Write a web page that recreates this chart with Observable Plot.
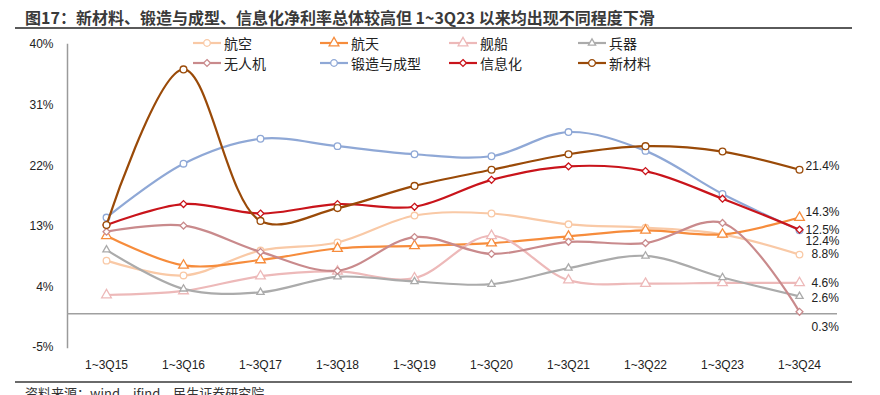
<!DOCTYPE html>
<html>
<head>
<meta charset="utf-8">
<script src="https://cdn.jsdelivr.net/npm/d3@7"></script>
<script src="https://cdn.jsdelivr.net/npm/@observablehq/plot@0.6"></script>
<style>
  html, body { margin: 0; padding: 0; background: #fff; }
  body { width: 880px; height: 395px; position: relative; overflow: hidden;
         font-family: "Liberation Sans", "Noto Sans CJK SC", sans-serif; }
  #title { position: absolute; left: 25px; top: 6px; font-size: 16px; font-weight: bold;
           color: #3a3a3a; font-family: "Noto Sans CJK SC", sans-serif; white-space: nowrap; line-height: 22px; }
  #topline { position: absolute; left: 15px; width: 837px; top: 27px; height: 2px; background: #5a5a5a; }
  #botline { position: absolute; left: 15px; width: 837px; top: 381px; height: 2px; background: #6a6a6a; }
  #source { position: absolute; left: 25px; top: 384px; font-size: 13px; color: #333;
            font-family: "Noto Sans CJK SC", sans-serif; white-space: nowrap; line-height: 18px; }
  #chart { position: absolute; left: 0; top: 35px; }
  .leg { position: absolute; display: flex; align-items: center; font-size: 14px; color: #222;
         font-family: "Noto Sans CJK SC", sans-serif; height: 16px; }
  .leg svg { margin-right: 3px; }
</style>
</head>
<body>
<div id="title">图17：新材料、锻造与成型、信息化净利率总体较高但 1~3Q23 以来均出现不同程度下滑</div>
<div id="topline"></div>
<div id="chart"></div>
<div id="legend"></div>
<div id="botline"></div>
<div id="source">资料来源：wind，ifind，民生证券研究院</div>
<script>
// ---- data ----
const categories = ["1~3Q15","1~3Q16","1~3Q17","1~3Q18","1~3Q19","1~3Q20","1~3Q21","1~3Q22","1~3Q23","1~3Q24"];
const seriesNames = ["航空","航天","舰船","兵器","无人机","锻造与成型","信息化","新材料"];
const hangkong   = [7.9, 5.7, 9.4, 10.6, 14.6, 14.9, 13.3, 12.8, 11.8, 8.8];
const hangtian   = [11.6, 7.2, 8.0, 9.7, 10.1, 10.5, 11.5, 12.4, 11.8, 14.3];
const jianchuan  = [2.8, 3.4, 5.6, 6.3, 5.3, 11.6, 5.0, 4.5, 4.6, 4.6];
const bingqi     = [9.5, 3.7, 3.2, 5.5, 4.8, 4.4, 6.8, 8.6, 5.4, 2.6];
const wurenji    = [12.2, 13.1, 9.2, 6.4, 11.4, 8.9, 10.7, 10.5, 13.5, 0.3];
const duanzao    = [14.3, 22.3, 26.0, 24.9, 23.7, 23.4, 27.0, 24.2, 17.8, 12.4];
const xinxihua   = [13.2, 16.3, 14.9, 16.3, 15.9, 19.9, 21.9, 21.2, 17.1, 12.5];
const xincailiao = [13.2, 36.3, 13.8, 15.7, 19.0, 21.4, 23.7, 24.9, 24.1, 21.4];
const yTicks = [-5, 4, 13, 22, 31, 40];

// ---- styles ----
const seriesValues = [hangkong, hangtian, jianchuan, bingqi, wurenji, duanzao, xinxihua, xincailiao];
const colors  = ["#F9C9A6", "#F68C3C", "#EDB9B9", "#ABABAB", "#C98A8C", "#8FA8D6", "#C9141B", "#9A4A08"];
const symbols = ["circle", "triangle", "triangle", "triangle", "diamond2", "circle", "diamond2", "circle"];
const radii   = [3.3, 3.6, 3.6, 2.7, 3.1, 3.3, 3.1, 3.4];
const labelDx = [12, 6, 12, 12, 12, 6, 6, 6];
const labelDy = [0, -5, 0, 2, 15, 11, 0, -4];

const rows = [];
seriesNames.forEach((s, i) => seriesValues[i].forEach((v, j) => rows.push({series: s, cat: categories[j], value: v, idx: i})));
const lastRows = seriesNames.map((s, i) => ({series: s, cat: categories[categories.length - 1], value: seriesValues[i][categories.length - 1], idx: i}));

const marks = [
  Plot.frame({anchor: "left", stroke: "#9a9a9a", strokeWidth: 1.5}),
  Plot.ruleY([0], {stroke: "#a0a0a0", strokeWidth: 1.5}),
];
seriesNames.forEach((s, i) => {
  const d = rows.filter(r => r.idx === i);
  marks.push(Plot.line(d, {x: "cat", y: "value", stroke: colors[i], strokeWidth: 2.2, curve: "catmull-rom"}));
  marks.push(Plot.dot(d, {x: "cat", y: "value", stroke: colors[i], fill: "white", strokeWidth: 1.3, symbol: symbols[i], r: radii[i]}));
});
lastRows.forEach((r, i) => {
  marks.push(Plot.text([r], {x: "cat", y: "value", text: d => d.value.toFixed(1) + "%", textAnchor: "start",
    dx: labelDx[i], dy: labelDy[i], fontSize: 12, fill: "#222"}));
});

const chart = Plot.plot({
  width: 880, height: 345,
  marginLeft: 67, marginRight: 43, marginTop: 9, marginBottom: 33,
  style: {fontFamily: '"Liberation Sans", Arial, sans-serif', fontSize: "12px", color: "#222", background: "transparent"},
  x: {type: "point", domain: categories, padding: 0.5, label: null, tickSize: 0, tickPadding: 13},
  y: {domain: [-5, 40], ticks: yTicks, tickFormat: d => d + "%", label: null, tickSize: 0, tickPadding: 14},
  marks
});
document.getElementById("chart").appendChild(chart);

// ---- legend ----
const legX = [193, 320, 449, 578];
const legY = [43, 63];
const legend = document.getElementById("legend");
seriesNames.forEach((s, i) => {
  const col = i % 4, row = Math.floor(i / 4);
  const div = document.createElement("div");
  div.className = "leg";
  div.style.left = legX[col] + "px";
  div.style.top = (legY[row] - 8) + "px";
  const symType = {circle: d3.symbolCircle, triangle: d3.symbolTriangle, diamond2: d3.symbolDiamond2}[symbols[i]];
  const path = d3.symbol(symType, Math.PI * radii[i] * radii[i])();
  div.innerHTML = `<svg width="28" height="16"><line x1="0" x2="28" y1="8" y2="8" stroke="${colors[i]}" stroke-width="2.2"/>` +
    `<path d="${path}" transform="translate(14,8)" fill="white" stroke="${colors[i]}" stroke-width="1.3"/></svg><span>${s}</span>`;
  legend.appendChild(div);
});
</script>
</body>
</html>
